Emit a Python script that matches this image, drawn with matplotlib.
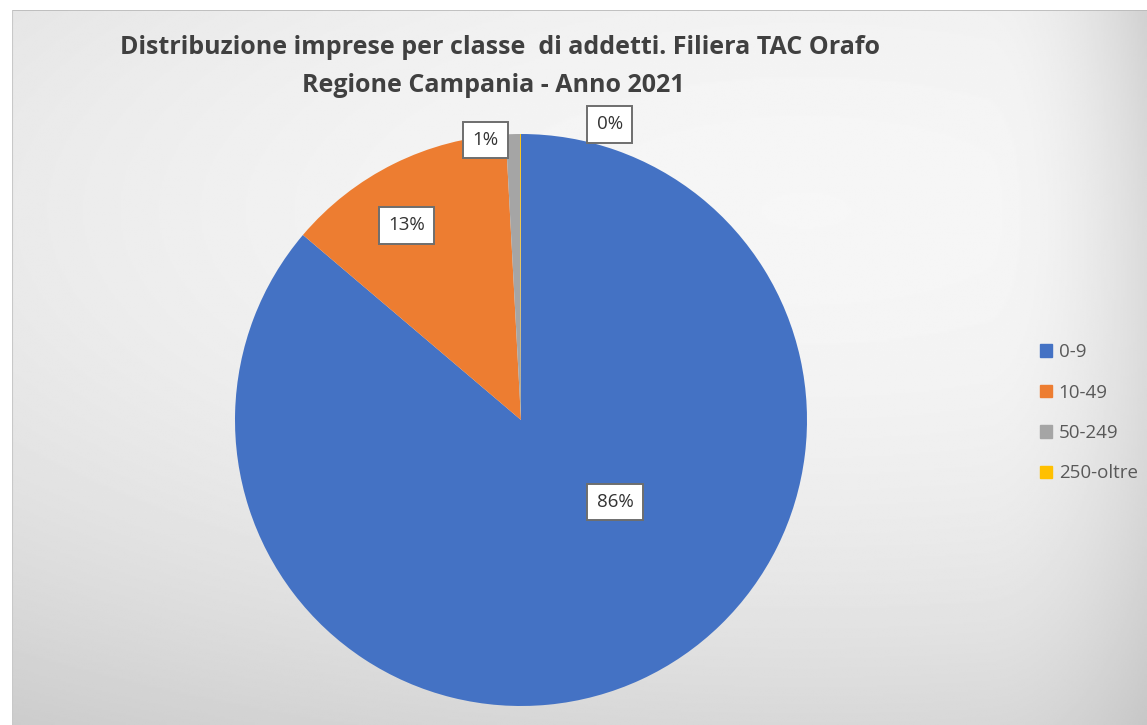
import numpy as np
import matplotlib.pyplot as plt
import matplotlib.patches as mpatches

classi = ['0-9', '10-49', '50-249', '250-oltre']
quote = [86.2, 12.95, 0.8, 0.05]
colori = ['#4472C4', '#ED7D31', '#A5A5A5', '#FFC000']
# distanza etichette (frazione del raggio) e scostamento angolare
dist_etich = [0.436, 0.79, 0.987, 1.08]
delta_ang = [24.1, 4.1, 5.6, -16.8]

W, H = 1147, 725
fig = plt.figure(figsize=(W / 100, H / 100), dpi=100, facecolor='white')

# sfondo con sfumatura
bg = fig.add_axes([12 / W, 0, 1 - 12 / W, (H - 10) / H])
yy, xx = np.mgrid[0:1:400j, 0:1:600j]
img = (0.965 - 0.096 * (xx - 0.7) ** 2 - 0.2275 * (yy - 0.72) ** 2
       - 0.118 * np.clip((xx - 0.86) / 0.14, 0, 1) ** 2 * (0.5 + 0.5 * yy))
img = np.clip(img, 0, 1)
bg.imshow(img, cmap='gray', vmin=0, vmax=1, extent=[0, 1, 0, 1],
          origin='lower', aspect='auto', interpolation='bilinear')
bg.plot([0, 1], [1, 1], color='#b8b8b8', lw=1.2)
bg.plot([0, 0], [0, 1], color='#c8c8c8', lw=1.5)
bg.set_xlim(0, 1)
bg.set_ylim(0, 1)
bg.axis('off')

# torta
r_px = 286
cx, cy = 521, 420
ax = fig.add_axes([(cx - r_px) / W, (H - cy - r_px) / H, 2 * r_px / W, 2 * r_px / H])
wedges, _ = ax.pie(quote, colors=colori, startangle=90, counterclock=False,
                   radius=1, center=(0, 0), frame=False)
ax.set_xlim(-1, 1)
ax.set_ylim(-1, 1)
ax.axis('off')

for w, q, dd, da in zip(wedges, quote, dist_etich, delta_ang):
    ang = np.deg2rad((w.theta1 + w.theta2) / 2 + da)
    ax.text(dd * np.cos(ang), dd * np.sin(ang), f'{round(q):d}%',
            ha='center', va='center', fontsize=13.5, color='#333333',
            family='Open Sans',
            bbox=dict(boxstyle='square,pad=0.5', fc='white', ec='#6e6e6e', lw=1.4),
            clip_on=False)

fig.text(500 / W, 1 - 47 / H, 'Distribuzione imprese per classe  di addetti. Filiera TAC Orafo',
         ha='center', va='center', fontsize=18, fontweight='bold', color='#404040',
         family='Open Sans')
fig.text(493 / W, 1 - 85 / H, 'Regione Campania - Anno 2021',
         ha='center', va='center', fontsize=18, fontweight='bold', color='#404040',
         family='Open Sans')

handles = [mpatches.Patch(color=c, label=l) for c, l in zip(colori, classi)]
leg = fig.legend(handles=handles, loc='upper left', bbox_to_anchor=(1040 / W, 1 - 343 / H),
                 frameon=False, fontsize=13.5, handlelength=0.65, handleheight=0.65,
                 handletextpad=0.35, labelspacing=1.2, borderpad=0, borderaxespad=0)
for t in leg.get_texts():
    t.set_color('#595959')
    t.set_family('Open Sans')

fig.savefig('out.png', dpi=100, facecolor='white')
